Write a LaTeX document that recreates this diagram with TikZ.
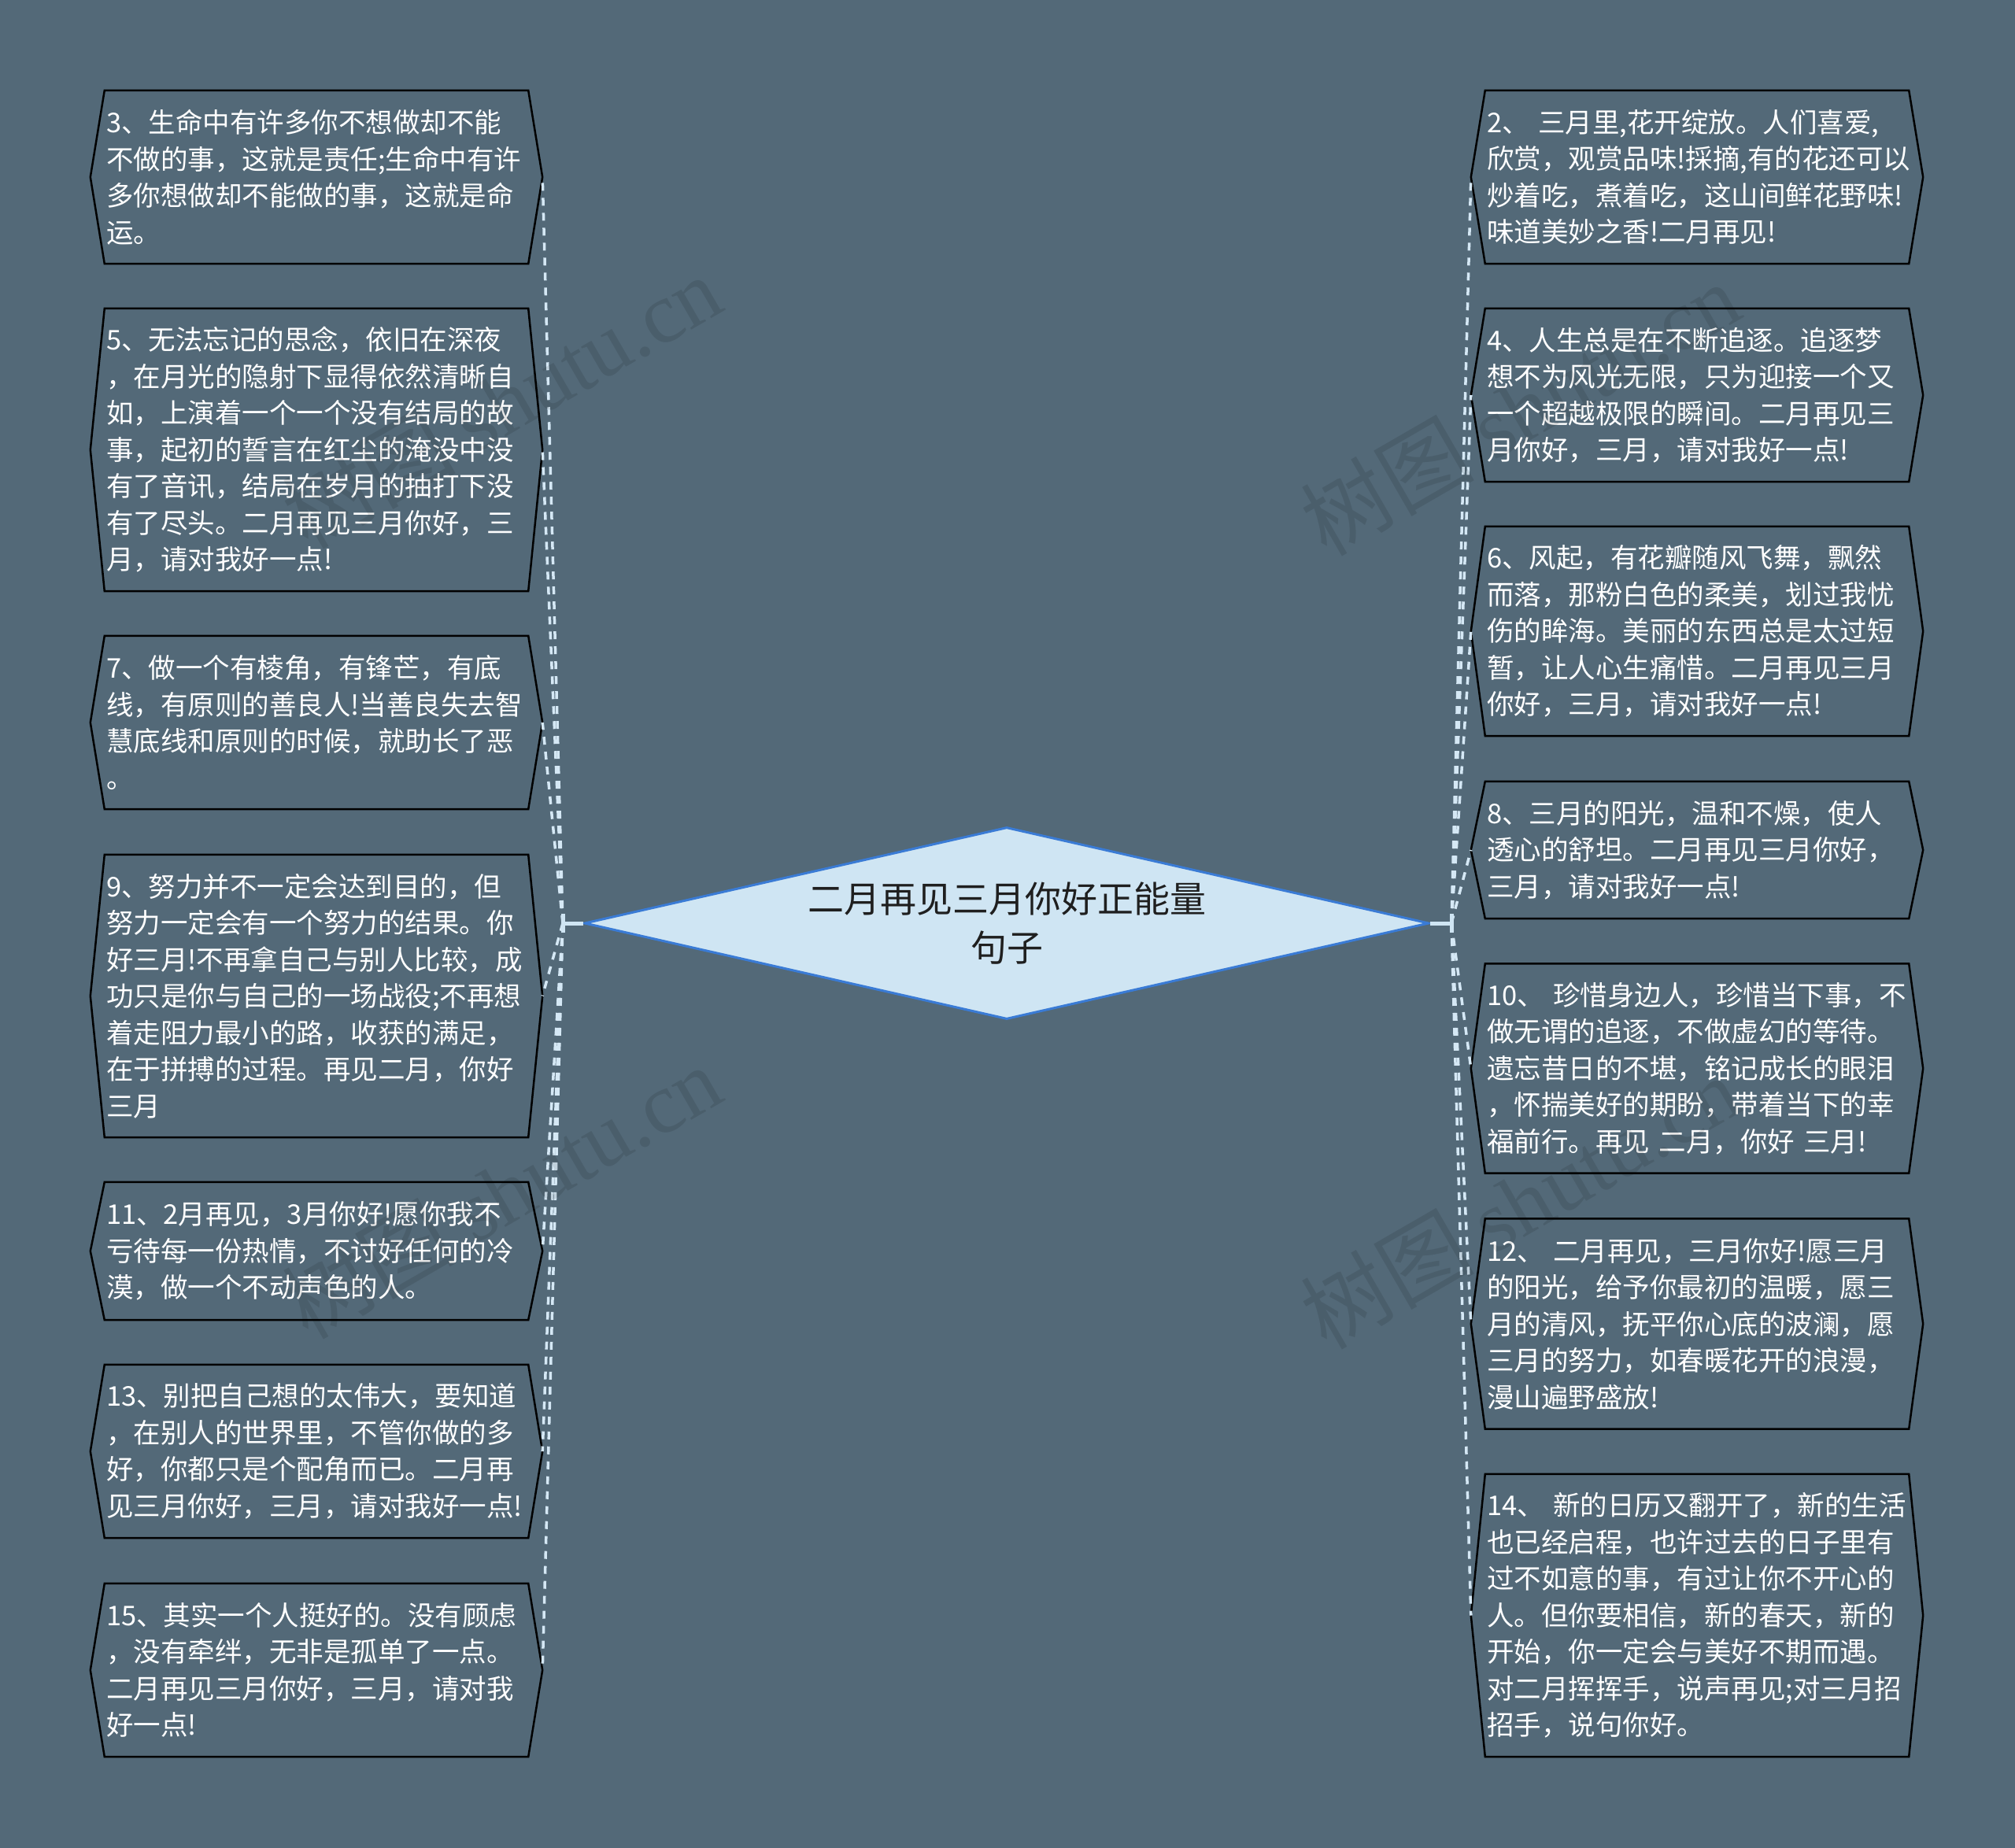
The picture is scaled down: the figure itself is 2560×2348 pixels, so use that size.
\documentclass[tikz,border=0pt]{standalone}
\usepackage{fontspec}
\setmainfont{Noto Sans CJK SC}
\newfontfamily\wmlatin{Liberation Serif}
\usetikzlibrary{shapes.geometric}
\definecolor{bgc}{HTML}{536978}
\definecolor{linkc}{HTML}{D5E8F5}
\definecolor{rootfill}{HTML}{CFE5F3}
\definecolor{rootline}{HTML}{3A7BD5}
\newcommand\hexb[1]{\draw[hex] (#1.north west) -- (#1.north east) -- ([xshift=18pt]#1.east) -- (#1.south east) -- (#1.south west) -- ([xshift=-18pt]#1.west) -- cycle;}
\begin{document}
\begin{tikzpicture}[x=1pt,y=-1pt,
  box/.style={inner xsep=2pt, inner ysep=0pt, text width=534pt, align=left, text=white, font=\fontsize{34.5}{46.5}\selectfont},
  hex/.style={draw=black, line width=2.5pt, line join=miter},
  conn/.style={draw=linkc, line width=3.5pt, dash pattern=on 10pt off 9pt},
  tick/.style={draw=rootfill, line width=5pt},
  wm/.style={text=black, opacity=0.10, font=\fontsize{110}{120}\selectfont}]
\fill[bgc] (0,0) rectangle (2560,2348);
\useasboundingbox (0,0) rectangle (2560,2348);

% root
\node[diamond, aspect=4.4, minimum width=1073pt, minimum height=244pt, inner sep=0pt,
  fill=rootfill, draw=rootline, line width=3pt, align=center, text=black!88,
  font=\fontsize{46}{62}\selectfont] (root) at (1279,1173) {二月再见三月你好正能量\\句子};

\coordinate (lj) at (715,1173);
\coordinate (rj) at (1844,1173);

% left boxes
\node[box, minimum height=220pt] (L1) at (402,225) {3、生命中有许多你不想做却不能\\不做的事，这就是责任;生命中有许\\多你想做却不能做的事，这就是命\\运。};
\node[box, minimum height=359pt] (L2) at (402,571.5) {5、无法忘记的思念，依旧在深夜\\，在月光的隐射下显得依然清晰自\\如，上演着一个一个没有结局的故\\事，起初的誓言在红尘的淹没中没\\有了音讯，结局在岁月的抽打下没\\有了尽头。二月再见三月你好，三\\月，请对我好一点!};
\node[box, minimum height=220pt] (L3) at (402,918) {7、做一个有棱角，有锋芒，有底\\线，有原则的善良人!当善良失去智\\慧底线和原则的时候，就助长了恶\\。};
\node[box, minimum height=359pt] (L4) at (402,1265.5) {9、努力并不一定会达到目的，但\\努力一定会有一个努力的结果。你\\好三月!不再拿自己与别人比较，成\\功只是你与自己的一场战役;不再想\\着走阻力最小的路，收获的满足，\\在于拼搏的过程。再见二月，你好\\三月};
\node[box, minimum height=175pt] (L5) at (402,1589.5) {11、2月再见，3月你好!愿你我不\\亏待每一份热情，不讨好任何的冷\\漠，做一个不动声色的人。};
\node[box, minimum height=220pt] (L6) at (402,1844) {13、别把自己想的太伟大，要知道\\，在别人的世界里，不管你做的多\\好，你都只是个配角而已。二月再\\见三月你好，三月，请对我好一点!};
\node[box, minimum height=220pt] (L7) at (402,2122) {15、其实一个人挺好的。没有顾虑\\，没有牵绊，无非是孤单了一点。\\二月再见三月你好，三月，请对我\\好一点!};

% right boxes
\node[box, minimum height=220pt] (R1) at (2156,225) {2、~三月里,花开绽放。人们喜爱,\\欣赏，观赏品味!採摘,有的花还可以\\炒着吃，煮着吃，这山间鲜花野味!\\味道美妙之香!二月再见!};
\node[box, minimum height=220pt] (R2) at (2156,502) {4、人生总是在不断追逐。追逐梦\\想不为风光无限，只为迎接一个又\\一个超越极限的瞬间。二月再见三\\月你好，三月，请对我好一点!};
\node[box, minimum height=266pt] (R3) at (2156,802) {6、风起，有花瓣随风飞舞，飘然\\而落，那粉白色的柔美，划过我忧\\伤的眸海。美丽的东西总是太过短\\暂，让人心生痛惜。二月再见三月\\你好，三月，请对我好一点!};
\node[box, minimum height=174pt] (R4) at (2156,1080) {8、三月的阳光，温和不燥，使人\\透心的舒坦。二月再见三月你好，\\三月，请对我好一点!};
\node[box, minimum height=266pt] (R5) at (2156,1357.5) {10、~珍惜身边人，珍惜当下事，不\\做无谓的追逐，不做虚幻的等待。\\遗忘昔日的不堪，铭记成长的眼泪\\，怀揣美好的期盼，带着当下的幸\\福前行。再见~二月，你好~三月!};
\node[box, minimum height=267pt] (R6) at (2156,1682) {12、~二月再见，三月你好!愿三月\\的阳光，给予你最初的温暖，愿三\\月的清风，抚平你心底的波澜，愿\\三月的努力，如春暖花开的浪漫，\\漫山遍野盛放!};
\node[box, minimum height=359pt] (R7) at (2156,2052.5) {14、~新的日历又翻开了，新的生活\\也已经启程，也许过去的日子里有\\过不如意的事，有过让你不开心的\\人。但你要相信，新的春天，新的\\开始，你一定会与美好不期而遇。\\对二月挥挥手，说声再见;对三月招\\招手，说句你好。};

\foreach \n in {L1,L2,L3,L4,L5,L6,L7,R1,R2,R3,R4,R5,R6,R7} {\hexb{\n}}

% connectors
\foreach \n in {L1,L2,L3,L4,L5,L6,L7} {\draw[conn] (lj) -- ([xshift=18pt]\n.east);}
\foreach \n in {R1,R2,R3,R4,R5,R6,R7} {\draw[conn] (rj) -- ([xshift=-18pt]\n.west);}
\draw[tick] (root.west) -- (lj);
\draw[tick] ([yshift=-12pt]lj) -- ([yshift=12pt]lj);
\draw[tick] (root.east) -- (rj);
\draw[tick] ([yshift=-12pt]rj) -- ([yshift=12pt]rj);

% watermarks
\node[wm, rotate=30] (wm1) at (637,510) {树图 {\wmlatin shutu.cn}};
\node[wm, rotate=30] (wm2) at (1931,519) {树图 {\wmlatin shutu.cn}};
\node[wm, rotate=30] (wm3) at (637,1514) {树图 {\wmlatin shutu.cn}};
\node[wm, rotate=30] (wm4) at (1931,1527) {树图 {\wmlatin shutu.cn}};
\end{tikzpicture}
\end{document}
